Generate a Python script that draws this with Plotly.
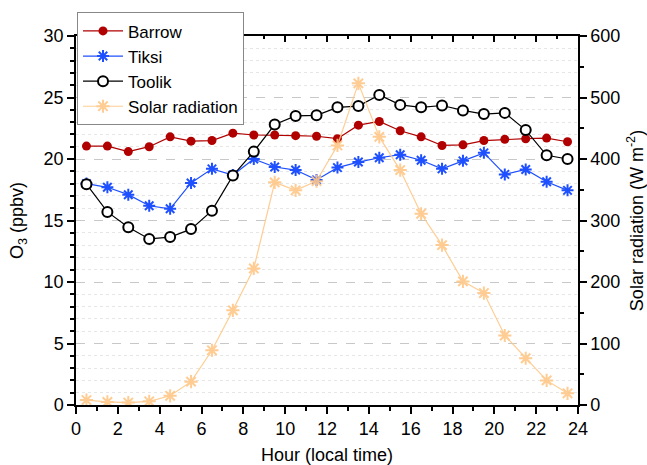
import plotly.graph_objects as go

hours = [0.5 + i for i in range(24)]
barrow = [21.05, 21.05, 20.6, 21.0, 21.8, 21.45, 21.5, 22.1, 21.95, 21.95, 21.9, 21.85,
          21.65, 22.75, 23.05, 22.3, 21.8, 21.1, 21.15, 21.5, 21.6, 21.65, 21.7, 21.4]
tiksi = [18.0, 17.7, 17.1, 16.2, 15.95, 18.05, 19.2, 18.7, 20.0, 19.35, 19.1, 18.3,
         19.3, 19.75, 20.1, 20.35, 19.9, 19.2, 19.85, 20.5, 18.75, 19.15, 18.15, 17.45]
toolik = [17.95, 15.7, 14.45, 13.5, 13.65, 14.3, 15.8, 18.65, 20.6, 22.8, 23.5, 23.55,
          24.2, 24.3, 25.2, 24.4, 24.2, 24.35, 23.95, 23.65, 23.75, 22.35, 20.3, 20.0]
solar = [8, 5, 4, 6, 15, 38, 89, 154, 222, 362, 349, 364,
         422, 523, 436, 382, 311, 260, 201, 182, 113, 76, 40, 19]

FONT = "Arial, Liberation Sans, sans-serif"

fig = go.Figure()
fig.add_trace(go.Scatter(x=hours, y=barrow, name="Barrow", mode="lines+markers",
                         line=dict(color="#B00000", width=1.2),
                         marker=dict(symbol="circle", size=9, color="#B00000")))
fig.add_trace(go.Scatter(x=hours, y=tiksi, name="Tiksi", mode="lines+markers",
                         line=dict(color="#1F50FF", width=1.2),
                         marker=dict(symbol="asterisk-open", size=10,
                                     line=dict(color="#1F50FF", width=2))))
fig.add_trace(go.Scatter(x=hours, y=toolik, name="Toolik", mode="lines+markers",
                         line=dict(color="black", width=1.2),
                         marker=dict(symbol="circle", size=10, color="white",
                                     line=dict(color="black", width=2))))
fig.add_trace(go.Scatter(x=hours, y=solar, name="Solar radiation", mode="lines+markers",
                         yaxis="y2",
                         line=dict(color="#FFC888", width=1.2),
                         marker=dict(symbol="asterisk-open", size=11,
                                     line=dict(color="#FFAA44", width=2)),
                         opacity=0.9))

axis_common = dict(showline=True, linecolor="black", linewidth=1.5,
                   ticks="outside", tickcolor="black", ticklen=7, tickwidth=1.5,
                   tickfont=dict(size=18, color="black", family=FONT),
                   zeroline=False, automargin=False)

fig.update_layout(
    width=647, height=465,
    margin=dict(l=76, r=69, t=34, b=60),
    paper_bgcolor="white", plot_bgcolor="white",
    font=dict(family=FONT, color="black", size=18),
    showlegend=True,
    legend=dict(x=0.002, y=1.064, xanchor="left", yanchor="top",
                bgcolor="white", bordercolor="#888888", borderwidth=1,
                itemwidth=40,
                font=dict(size=17, family=FONT), tracegroupgap=0),
    xaxis=dict(range=[0, 24], dtick=2, tick0=0, mirror=True,
               title=dict(text="Hour (local time)", font=dict(size=18)),
               showgrid=False,
               minor=dict(dtick=1, ticks="outside", ticklen=4, tickcolor="black", tickwidth=1.5),
               **axis_common),
    xaxis2=dict(range=[0, 24], overlaying="x", side="top", anchor="y",
                showline=False, ticks="inside", ticklen=6, tickwidth=1.5, tickcolor="black",
                dtick=2, showticklabels=False, showgrid=False, zeroline=False,
                minor=dict(dtick=1, ticks="inside", ticklen=3, tickcolor="black", tickwidth=1.5)),
    yaxis=dict(range=[0, 30], dtick=5, tick0=0,
               title=dict(text="O<sub>3</sub> (ppbv)", font=dict(size=18)),
               showgrid=True, gridcolor="#C8C8C8", griddash="dash", gridwidth=1,
               minor=dict(dtick=1, ticks="outside", ticklen=4, tickcolor="black", tickwidth=1.5,
                          showgrid=True, gridcolor="#E6E6E6", griddash="dot", gridwidth=1),
               **axis_common),
    yaxis2=dict(range=[0, 600], dtick=100, tick0=0, overlaying="y", side="right",
                anchor="x",
                title=dict(text="Solar radiation (W m<sup>-2</sup>)", font=dict(size=18)),
                showgrid=False,
                minor=dict(dtick=50, ticks="outside", ticklen=4, tickcolor="black", tickwidth=1.5),
                **axis_common),
)

# invisible trace to activate top axis ticks
fig.add_trace(go.Scatter(x=[0, 24], y=[0, 0], xaxis="x2", mode="lines",
                         line=dict(width=0), showlegend=False, hoverinfo="skip"))

fig.write_html("out.html")
